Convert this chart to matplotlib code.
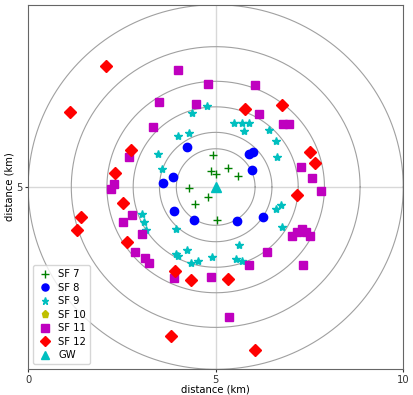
import numpy as np
import matplotlib
matplotlib.use("Agg")
import matplotlib.pyplot as plt

# gateway and range rings (km)
gw_x, gw_y = [5.0], [5.0]
ring_radii = [1.05, 1.5, 2.2, 2.9, 3.85, 5.0]

##### node positions per spreading factor
sf7_x = [4.94, 4.88, 5.00, 5.34, 5.59, 4.28, 4.46, 4.79, 5.03]
sf7_y = [5.89, 5.45, 5.35, 5.51, 5.29, 4.98, 4.54, 4.72, 4.10]

sf8_x = [4.23, 3.85, 3.59, 3.90, 4.41, 5.58, 6.25, 5.96, 5.89, 6.00]
sf8_y = [6.11, 5.27, 5.11, 4.35, 4.09, 4.08, 4.19, 5.46, 5.90, 5.96]

sf9_x = [4.76, 4.37, 3.99, 4.28, 3.46, 3.56, 5.49, 5.70, 5.89, 5.76,
         6.43, 6.62, 6.64, 6.60, 6.73, 6.76, 3.04, 3.08, 3.14, 3.93,
         5.63, 4.23, 3.93, 4.00, 4.35, 4.54, 4.89, 5.53, 5.70]
sf9_y = [7.21, 7.04, 6.41, 6.47, 5.91, 5.50, 6.77, 6.77, 6.75, 6.55,
         6.57, 6.26, 5.82, 4.41, 4.50, 3.90, 4.26, 4.04, 3.81, 3.84,
         3.40, 3.26, 3.16, 3.12, 2.93, 2.96, 3.08, 3.03, 2.97]

sf10_x = []
sf10_y = []

sf11_x = [3.99, 4.80, 6.04, 3.49, 4.48, 6.15, 3.34, 6.80, 6.96, 2.70,
          7.28, 7.58, 7.82, 2.29, 2.21, 2.77, 2.52, 3.04, 2.86, 3.12,
          3.22, 3.88, 4.88, 5.89, 6.36, 7.04, 7.18, 7.29, 7.42, 7.52,
          7.32, 5.35]
sf11_y = [8.20, 7.83, 7.81, 7.32, 7.29, 6.99, 6.66, 6.72, 6.73, 5.82,
          5.56, 5.25, 4.89, 5.09, 4.95, 4.24, 4.03, 3.71, 3.23, 3.05,
          2.93, 2.51, 2.53, 2.85, 3.22, 3.65, 3.76, 3.86, 3.77, 3.65,
          2.86, 1.44]

sf12_x = [2.07, 1.12, 5.79, 6.76, 2.75, 7.51, 7.64, 2.31, 7.16, 2.54,
          1.42, 1.30, 2.64, 3.91, 4.33, 5.33, 3.80, 6.06]
sf12_y = [8.32, 7.07, 7.14, 7.24, 6.01, 5.96, 5.66, 5.38, 4.78, 4.57,
          4.19, 3.82, 3.50, 2.70, 2.44, 2.48, 0.91, 0.54]

plt.rcParams["font.size"] = 7.2

fig = plt.figure(figsize=(4.14, 3.95), dpi=100)
ax = fig.add_axes([0.068, 0.065, 0.906, 0.923])

# range rings around the gateway
t = np.linspace(0, 2 * np.pi, 400)
for r in ring_radii:
    ax.plot(gw_x[0] + r * np.cos(t), gw_y[0] + r * np.sin(t),
            color="#a0a0a0", lw=0.8, zorder=1)

ax.axvline(5, color="#d8d8d8", lw=1.0, zorder=0)
ax.axhline(5, color="#d8d8d8", lw=1.0, zorder=0)

ax.plot(sf7_x, sf7_y, "g+", ls="none", label="SF 7", zorder=3)
ax.plot(sf8_x, sf8_y, "bo", ls="none", label="SF 8", zorder=3)
ax.plot(sf9_x, sf9_y, "c*", ls="none", label="SF 9", zorder=3)
ax.plot(sf10_x, sf10_y, "yp", ls="none", label="SF 10", zorder=3)
ax.plot(sf11_x, sf11_y, "ms", ls="none", label="SF 11", zorder=3)
ax.plot(sf12_x, sf12_y, "rD", ls="none", label="SF 12", zorder=3)
ax.plot(gw_x, gw_y, "c^", ls="none", ms=7, label="GW", zorder=4)

ax.set_xlim(0, 10)
ax.set_ylim(0, 10)
ax.set_xticks([0, 5, 10])
ax.set_yticks([5])
ax.tick_params(length=2.5, pad=1.5, colors="#333333")
ax.set_xlabel("distance (km)", labelpad=0)
ax.set_ylabel("distance (km)", labelpad=1)
for s in ax.spines.values():
    s.set_color("#666666")

ax.legend(loc="lower left", fontsize=7.2, handletextpad=0.5,
          borderpad=0.4, labelspacing=0.35, handlelength=1.6,
          markerscale=0.85)

fig.savefig("out.png", dpi=100)
